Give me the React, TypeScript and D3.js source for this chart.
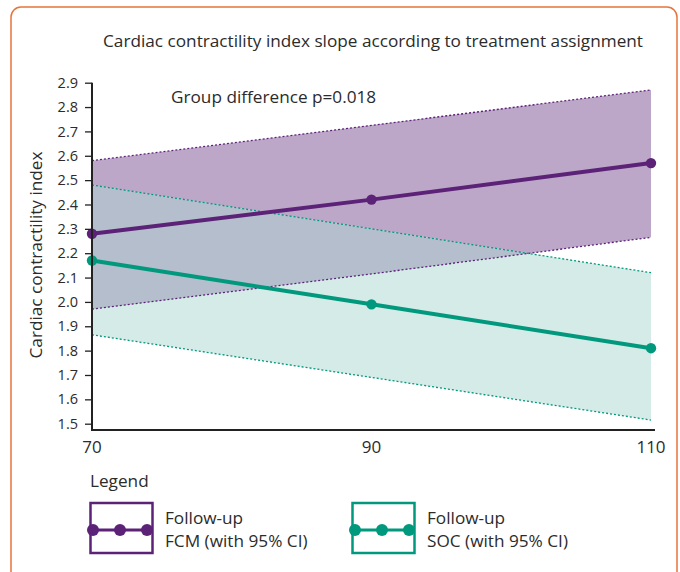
import React, { useEffect, useRef } from 'react';
import * as d3 from 'd3';

const weeks = [70, 90, 110];
const yTicks = [1.5, 1.6, 1.7, 1.8, 1.9, 2.0, 2.1, 2.2, 2.3, 2.4, 2.5, 2.6, 2.7, 2.8, 2.9];

const fcmMean = [2.28, 2.42, 2.57];
const fcmUpper = [2.58, 2.725, 2.87];
const fcmLower = [1.97, 2.115, 2.265];

const socMean = [2.17, 1.99, 1.81];
const socUpper = [2.48, 2.3, 2.12];
const socLower = [1.865, 1.69, 1.515];

const PURPLE = '#5c2278';
const TEAL = '#00997e';
const FONT = '"Open Sans", Lato, sans-serif';
const TXT = '17.2px';

const App = () => {
  const svgRef = useRef<SVGSVGElement>(null);

  useEffect(() => {
    const svg = d3.select(svgRef.current);
    svg.selectAll('*').remove();

    const x = d3.scaleLinear().domain([70, 110]).range([92, 651]);
    const y = d3.scaleLinear().domain([1.5, 2.9]).range([423.7, 82.7]);
    const axisY = 430;

    // frame
    svg.append('rect')
      .attr('x', 11).attr('y', 7).attr('width', 666).attr('height', 590)
      .attr('rx', 10)
      .attr('fill', 'white')
      .attr('stroke', '#e8743b')
      .attr('stroke-width', 1.5);

    svg.append('text')
      .attr('x', 373).attr('y', 47)
      .attr('text-anchor', 'middle')
      .style('font-family', FONT).style('font-size', TXT)
      .attr('fill', '#2b2b2b')
      .text('Cardiac contractility index slope according to treatment assignment');

    const area = (up: number[], lo: number[]) =>
      d3.area<number>()
        .x(d => x(d))
        .y0((d, i) => y(lo[i]))
        .y1((d, i) => y(up[i]))(weeks);

    const line = (vals: number[]) =>
      d3.line<number>().x(d => x(d)).y((d, i) => y(vals[i]))(weeks);

    const defs = svg.append('defs');
    defs.append('clipPath').attr('id', 'fcmClip')
      .append('path').attr('d', area(fcmUpper, fcmLower));

    // bands
    svg.append('path').attr('d', area(fcmUpper, fcmLower)).attr('fill', '#bca7c8');
    svg.append('path').attr('d', area(socUpper, socLower)).attr('fill', '#d5ebe7');
    svg.append('path').attr('d', area(socUpper, socLower))
      .attr('clip-path', 'url(#fcmClip)')
      .attr('fill', '#b4becc');

    // CI bounds
    const bounds: [number[], string][] = [
      [fcmUpper, PURPLE], [fcmLower, PURPLE], [socUpper, TEAL], [socLower, TEAL],
    ];
    bounds.forEach(([vals, c]) => {
      svg.append('path').attr('d', line(vals))
        .attr('fill', 'none').attr('stroke', c)
        .attr('stroke-width', 1.3).attr('stroke-dasharray', '2,2');
    });

    // mean lines
    const series: [number[], string][] = [[fcmMean, PURPLE], [socMean, TEAL]];
    series.forEach(([vals, c]) => {
      svg.append('path').attr('d', line(vals))
        .attr('fill', 'none').attr('stroke', c).attr('stroke-width', 4);
      svg.selectAll(null).data(weeks).enter().append('circle')
        .attr('cx', d => x(d)).attr('cy', (d, i) => y(vals[i]))
        .attr('r', 5.2).attr('fill', c);
    });

    // y axis
    const ya = svg.append('g')
      .attr('transform', `translate(${x(70)},0)`)
      .call(d3.axisLeft(y).tickValues(yTicks).tickSize(7).tickPadding(7).tickFormat(d3.format('.1f')));
    ya.select('.domain').remove();
    ya.selectAll('line').attr('stroke', '#222').attr('stroke-width', 1.3);
    ya.selectAll('text')
      .style('font-family', FONT).style('font-size', '14.5px').attr('fill', '#2b2b2b');

    svg.append('line')
      .attr('x1', x(70)).attr('x2', x(70))
      .attr('y1', y(2.9)).attr('y2', axisY)
      .attr('stroke', '#222').attr('stroke-width', 2);

    // x axis
    svg.append('line')
      .attr('x1', x(70) - 1).attr('x2', x(110) + 4)
      .attr('y1', axisY).attr('y2', axisY)
      .attr('stroke', '#222').attr('stroke-width', 2.2);

    svg.selectAll('.xlab').data(weeks).enter().append('text')
      .attr('x', d => x(d)).attr('y', 453)
      .attr('text-anchor', 'middle')
      .style('font-family', FONT).style('font-size', '17px')
      .attr('fill', '#2b2b2b')
      .text(d => d);

    svg.append('text')
      .attr('transform', 'translate(42,255) rotate(-90)')
      .attr('text-anchor', 'middle')
      .style('font-family', FONT).style('font-size', TXT)
      .attr('fill', '#2b2b2b')
      .text('Cardiac contractility index');

    svg.append('text')
      .attr('x', 171).attr('y', 103)
      .style('font-family', FONT).style('font-size', TXT)
      .attr('fill', '#2b2b2b')
      .text('Group difference p=0.018');

    // legend
    svg.append('text')
      .attr('x', 90).attr('y', 487)
      .style('font-family', FONT).style('font-size', TXT)
      .attr('fill', '#2b2b2b')
      .text('Legend');

    const legend: [string, string, number][] = [
      ['FCM (with 95% CI)', PURPLE, 90],
      ['SOC (with 95% CI)', TEAL, 352],
    ];
    legend.forEach(([label, c, lx]) => {
      const g = svg.append('g').attr('transform', `translate(${lx},503)`);
      g.append('rect').attr('x', 0.5).attr('y', 0).attr('width', 62).attr('height', 50)
        .attr('fill', 'white').attr('stroke', c).attr('stroke-width', 2.5);
      g.append('line').attr('x1', 3).attr('x2', 57).attr('y1', 27).attr('y2', 27)
        .attr('stroke', c).attr('stroke-width', 3);
      [3, 30, 57].forEach(cx => {
        g.append('circle').attr('cx', cx).attr('cy', 27).attr('r', 6).attr('fill', c);
      });
      g.append('text').attr('x', 75).attr('y', 21)
        .style('font-family', FONT).style('font-size', TXT).attr('fill', '#2b2b2b')
        .text('Follow-up');
      g.append('text').attr('x', 75).attr('y', 44)
        .style('font-family', FONT).style('font-size', TXT).attr('fill', '#2b2b2b')
        .text(label);
    });
  }, []);

  return <svg ref={svgRef} width={680} height={572} style={{ position: 'absolute', left: 0, top: 0 }} />;
};

export default App;
